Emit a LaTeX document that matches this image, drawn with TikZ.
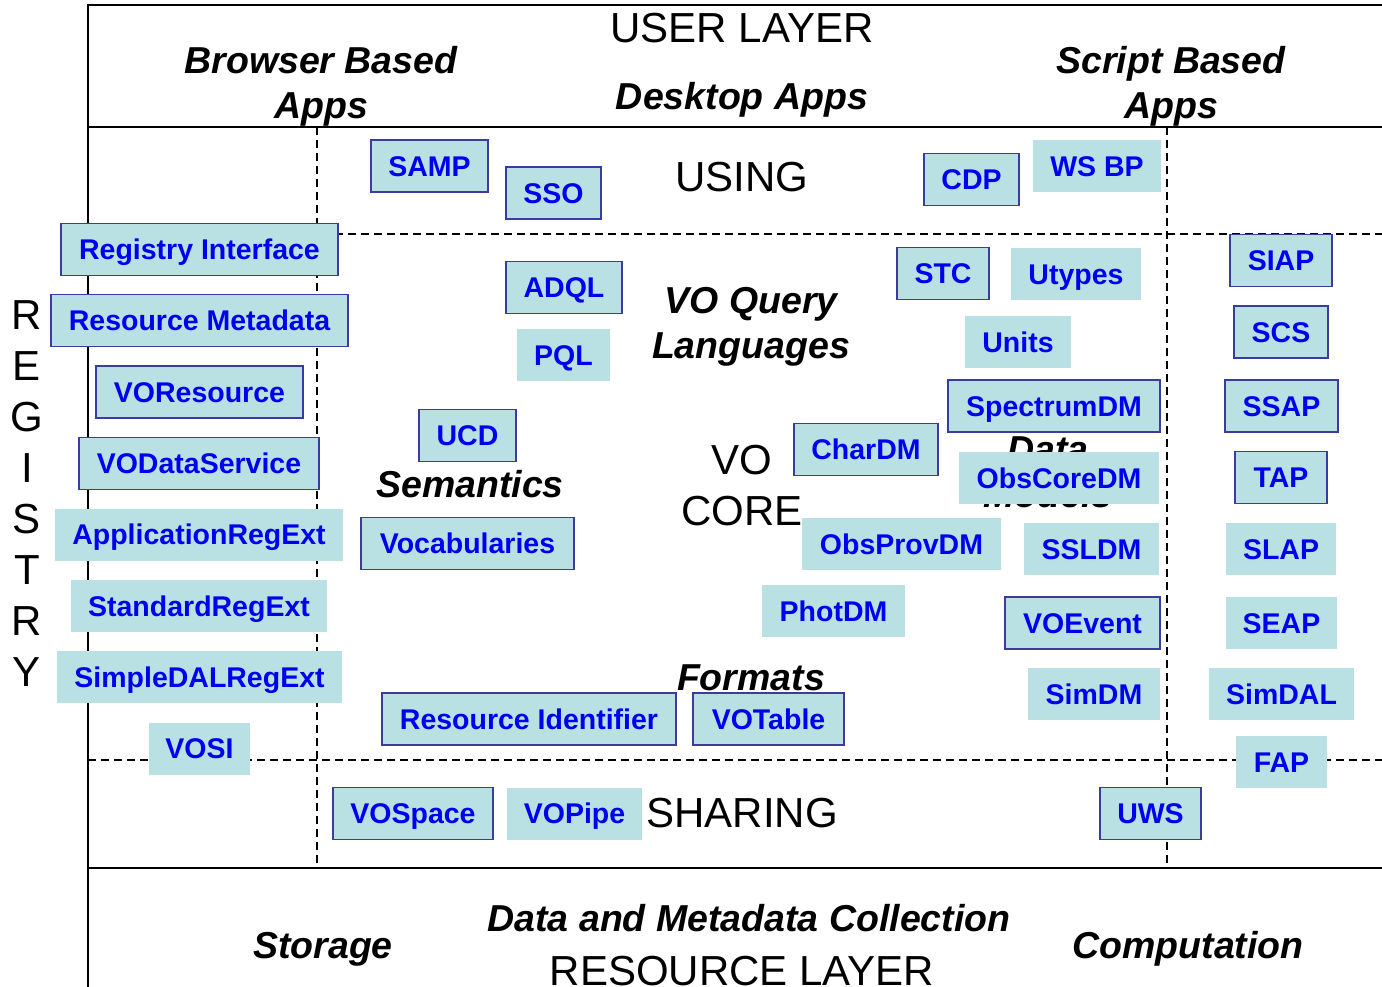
\documentclass[tikz,border=0pt]{standalone}
\usepackage{fontspec}
\setmainfont{Liberation Sans}
\definecolor{boxfill}{RGB}{185,224,227}
\definecolor{boxline}{RGB}{60,60,160}
\definecolor{boxtext}{RGB}{0,0,240}
\tikzset{
  layer/.style={font=\fontsize{42}{51}\selectfont, inner sep=0pt, align=center},
  area/.style={font=\fontsize{37.5}{45}\selectfont\bfseries\itshape, inner sep=0pt, align=center},
  vobox/.style={fill=boxfill, text=boxtext, font=\fontsize{28.5}{34}\selectfont\bfseries,
    inner sep=0pt, minimum height=52, text height=20.4pt, text depth=0pt},
  voboxb/.style={vobox, draw=boxline, line width=1.5pt},
  grid/.style={dash pattern=on 8pt off 5pt, line width=1.6pt}
}
\begin{document}
\begin{tikzpicture}[x=1pt,y=-1pt]
\useasboundingbox (0,0) rectangle (1382,987);
\coordinate (A) at (88,5);
\coordinate (B) at (1382,5);
\coordinate (C) at (88,987);
%marco
\draw[line width=2.2pt] (B) -- (A) -- (C);
\draw[line width=2.2pt] (88,127) -- (1382,127);
\draw[line width=2.2pt] (88,868) -- (1382,868);
\draw[grid] (317,127) -- (317,868);
\draw[grid] (1167,127) -- (1167,868);
\draw[grid] (88,234) -- (1382,234);
\draw[grid] (88,760) -- (1382,760);
%capas
\node[layer, anchor=base] (user) at (742,43) {USER LAYER};
\node[area, anchor=base] (browser) at (321,119) {Browser Based\\Apps};
\node[area, anchor=base] (desktop) at (742,110) {Desktop Apps};
\node[area, anchor=base] (script) at (1171,119) {Script Based\\Apps};
\node[layer, anchor=base] (using) at (742,192) {USING};
\node[area, anchor=base] (query) at (751,358) {VO Query\\Languages};
\node[area, anchor=base] (semantics) at (470,497) {Semantics};
\node[layer, anchor=base] (core) at (742,525) {VO\\CORE};
\node[area, anchor=base] (models) at (1048,507) {Data\\Models};
\node[area, anchor=base] (formats) at (751,690) {Formats};
\node[layer, anchor=base] (sharing) at (742,827) {SHARING};
\node[area, anchor=base] (collection) at (749,931) {Data and Metadata Collection};
\node[area, anchor=base] (storage) at (323,958) {Storage};
\node[area, anchor=base] (computation) at (1188,958) {Computation};
\node[layer, anchor=base] (resource) at (742,985) {RESOURCE LAYER};
\node[layer, anchor=base] (registry) at (27,686) {R\\E\\G\\I\\S\\T\\R\\Y};
%registro
\node[voboxb, minimum width=277] (regint) at (199.5,249.5) {Registry Interface};
\node[voboxb, minimum width=297] (resmeta) at (199.5,320.5) {Resource Metadata};
\node[voboxb, minimum width=207] (vores) at (199.5,392) {VOResource};
\node[voboxb, minimum width=240] (vods) at (199,463.5) {VODataService};
\node[vobox, minimum width=288] (appreg) at (199,534.5) {ApplicationRegExt};
\node[vobox, minimum width=256] (stdreg) at (199,606) {StandardRegExt};
\node[vobox, minimum width=285] (dalreg) at (199.5,677) {SimpleDALRegExt};
\node[vobox, minimum width=101] (vosi) at (199.5,748.5) {VOSI};
%using
\node[voboxb, minimum width=117] (samp) at (429.5,166) {SAMP};
\node[voboxb, minimum width=95] (sso) at (553.5,193) {SSO};
\node[voboxb, minimum width=95] (cdp) at (971.5,179.5) {CDP};
\node[vobox, minimum width=128] (wsbp) at (1097,166) {WS BP};
%core
\node[voboxb, minimum width=116] (adql) at (564,287.5) {ADQL};
\node[vobox, minimum width=93] (pql) at (563.5,355) {PQL};
\node[voboxb, minimum width=97] (ucd) at (467.5,435.5) {UCD};
\node[voboxb, minimum width=213] (vocab) at (467.5,543.5) {Vocabularies};
\node[voboxb, minimum width=294] (resid) at (529,719) {Resource Identifier};
\node[voboxb, minimum width=151] (votable) at (768.5,719) {VOTable};
\node[voboxb, minimum width=92] (stc) at (943,273.5) {STC};
\node[vobox, minimum width=130] (utypes) at (1076,274) {Utypes};
\node[vobox, minimum width=106] (units) at (1018,342) {Units};
\node[voboxb, minimum width=212] (spectrum) at (1054,406) {SpectrumDM};
\node[voboxb, minimum width=144] (chardm) at (866,449.5) {CharDM};
\node[vobox, minimum width=200] (obscore) at (1059,478) {ObsCoreDM};
\node[vobox, minimum width=199] (obsprov) at (901.5,544) {ObsProvDM};
\node[vobox, minimum width=135] (ssldm) at (1091.5,549) {SSLDM};
\node[vobox, minimum width=143] (photdm) at (833.5,611) {PhotDM};
\node[voboxb, minimum width=155] (voevent) at (1082.5,623) {VOEvent};
\node[vobox, minimum width=132] (simdm) at (1094,694) {SimDM};
%acceso
\node[voboxb, minimum width=102] (siap) at (1281,260.5) {SIAP};
\node[voboxb, minimum width=94] (scs) at (1281,332) {SCS};
\node[voboxb, minimum width=113] (ssap) at (1281.5,406) {SSAP};
\node[voboxb, minimum width=92] (tap) at (1281,477.5) {TAP};
\node[vobox, minimum width=110] (slap) at (1281,549) {SLAP};
\node[vobox, minimum width=111] (seap) at (1281.5,623) {SEAP};
\node[vobox, minimum width=145] (simdal) at (1281.5,694) {SimDAL};
\node[vobox, minimum width=91] (fap) at (1281.5,762) {FAP};
%sharing
\node[voboxb, minimum width=160] (vospace) at (413,813.5) {VOSpace};
\node[vobox, minimum width=135] (vopipe) at (574.5,813.5) {VOPipe};
\node[voboxb, minimum width=101] (uws) at (1150.5,813.5) {UWS};
\end{tikzpicture}
\end{document}
